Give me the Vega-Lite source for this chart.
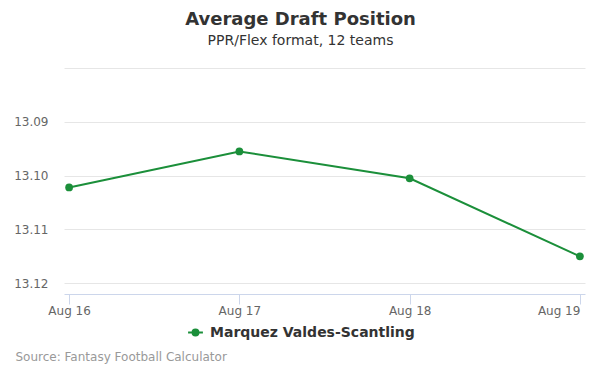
{
  "$schema": "https://vega.github.io/schema/vega-lite/v6.json",
  "width": 521,
  "height": 226,
  "autosize": {"type": "none"},
  "padding": {"left": 64, "top": 68, "right": 15, "bottom": 81},
  "background": "white",
  "config": {
    "font": "DejaVu Sans",
    "view": {"stroke": null}
  },
  "title": {
    "text": "Average Draft Position",
    "subtitle": "PPR/Flex format, 12 teams",
    "anchor": "middle",
    "dx": -24,
    "fontSize": 18,
    "fontWeight": "bold",
    "color": "#333333",
    "subtitleFontSize": 14,
    "subtitleColor": "#333333",
    "subtitlePadding": 5,
    "offset": 20
  },
  "data": {
    "values": [
      {"date": "Aug 16", "adp": 13.1022, "player": "Marquez Valdes-Scantling"},
      {"date": "Aug 17", "adp": 13.0955, "player": "Marquez Valdes-Scantling"},
      {"date": "Aug 18", "adp": 13.1005, "player": "Marquez Valdes-Scantling"},
      {"date": "Aug 19", "adp": 13.115, "player": "Marquez Valdes-Scantling"}
    ]
  },
  "encoding": {
    "x": {
      "field": "date",
      "type": "ordinal",
      "scale": {"type": "point", "padding": 0.03},
      "axis": {
        "labelAngle": 0,
        "labelAlign": {"condition": {"test": "datum.label == 'Aug 19'", "value": "right"}, "value": "center"},
        "grid": false,
        "domainColor": "#ccd6eb",
        "tickColor": "#ccd6eb",
        "tickSize": 10,
        "labelFontSize": 12,
        "labelColor": "#666666",
        "labelPadding": 1,
        "title": "Source: Fantasy Football Calculator",
        "titleX": -49,
        "titleY": 62,
        "titleAnchor": "start",
        "titleAlign": "left",
        "titleBaseline": "middle",
        "titleFontSize": 12,
        "titleFontWeight": "normal",
        "titleColor": "#999999"
      }
    },
    "y": {
      "field": "adp",
      "type": "quantitative",
      "scale": {"domain": [13.08, 13.122], "reverse": true, "nice": false, "zero": false},
      "axis": {
        "values": [13.08, 13.09, 13.1, 13.11, 13.12],
        "format": ".2f",
        "labelExpr": "datum.value < 13.085 ? '' : datum.label",
        "domain": false,
        "ticks": false,
        "gridColor": "#e6e6e6",
        "labelFontSize": 12,
        "labelColor": "#666666",
        "labelPadding": 16,
        "title": null
      }
    },
    "color": {
      "field": "player",
      "type": "nominal",
      "scale": {"range": ["#1b8f3a"]},
      "legend": {
        "title": null,
        "orient": "none",
        "legendX": 123,
        "legendY": 256,
        "symbolType": "M-1,0H1M-0.4,0a0.4,0.4 0 1,0 0.8,0a0.4,0.4 0 1,0 -0.8,0",
        "symbolSize": 220,
        "symbolStrokeWidth": 2,
        "labelFontSize": 14,
        "labelFontWeight": "bold",
        "labelColor": "#333333",
        "labelOffset": 6,
        "labelLimit": 400
      }
    }
  },
  "layer": [
    {"mark": {"type": "line", "strokeWidth": 2}},
    {"mark": {"type": "point", "filled": true, "size": 60, "opacity": 1}}
  ]
}
